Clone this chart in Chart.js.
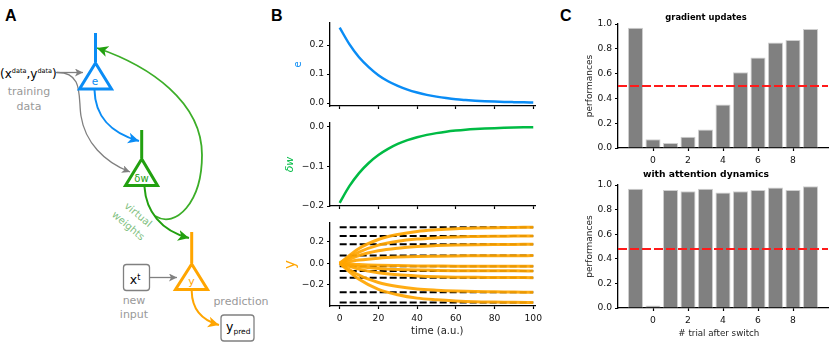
<!DOCTYPE html>
<html>
<head>
<meta charset="utf-8">
<script src="https://cdn.jsdelivr.net/npm/chart.js@4"></script>
<style>
  html, body { margin: 0; padding: 0; background: #fff; }
  #page { position: relative; width: 830px; height: 343px; overflow: hidden; font-family: "DejaVu Sans", sans-serif; }
  #page canvas { position: absolute; }
  #page svg { position: absolute; left: 0; top: 0; }
  .letter { font-family: "Liberation Sans", sans-serif; font-weight: bold; font-size: 16px; fill: #000; }
  .gray { fill: #999; font-size: 11px; }
</style>
</head>
<body>
<div id="page">
<svg width="830" height="343" viewBox="0 0 830 343">
  <defs>
    <marker id="headGray" markerUnits="userSpaceOnUse" markerWidth="9" markerHeight="9" refX="8" refY="4" orient="auto"><path d="M0 0 L8 4 L0 8 L2 4 Z" fill="#808080"/></marker>
    <marker id="headBlue" markerUnits="userSpaceOnUse" markerWidth="12" markerHeight="12" refX="11" refY="5.5" orient="auto"><path d="M0 0 L11 5.5 L0 11 L3 5.5 Z" fill="#0a8cf5"/></marker>
    <marker id="headGreen" markerUnits="userSpaceOnUse" markerWidth="12" markerHeight="12" refX="11" refY="5.5" orient="auto"><path d="M0 0 L11 5.5 L0 11 L3 5.5 Z" fill="#22a010"/></marker>
    <marker id="headOrange" markerUnits="userSpaceOnUse" markerWidth="12" markerHeight="12" refX="11" refY="5.5" orient="auto"><path d="M0 0 L11 5.5 L0 11 L3 5.5 Z" fill="#ffa500"/></marker>
  </defs>

  <text class="letter" x="5" y="21">A</text>
  <text class="letter" x="271" y="21">B</text>
  <text class="letter" x="560" y="21">C</text>

  <!-- arrows -->
  <path d="M56 72.5 L83 72.5" fill="none" stroke="#808080" stroke-width="1.3" marker-end="url(#headGray)"/>
  <path d="M57 72.5 C84 72 78 98 81 116 C85 142 104 162 130 172" fill="none" stroke="#808080" stroke-width="1.3" marker-end="url(#headGray)"/>
  <path d="M94.5 90 C95 115 110 133 139 141" fill="none" stroke="#0a8cf5" stroke-width="2" marker-end="url(#headBlue)"/>
  <path d="M155 216 C176 229 202 202 202 155 C202 102 150 66 97 48" fill="none" stroke="#3cae28" stroke-width="1.8" marker-end="url(#headGreen)"/>
  <path d="M144.5 187 C146 211 161 231 189 238" fill="none" stroke="#22a010" stroke-width="2" marker-end="url(#headGreen)"/>
  <path d="M150 277.5 L177 277.5" fill="none" stroke="#808080" stroke-width="1.3" marker-end="url(#headGray)"/>
  <path d="M191.7 291 C192 309 201 320 219 325" fill="none" stroke="#ffa500" stroke-width="2" marker-end="url(#headOrange)"/>

  <!-- neurons -->
  <path d="M95.5 33 L95.5 62" stroke="#0a8cf5" stroke-width="3" fill="none"/>
  <path d="M95.5 63 L79.5 89 L111.5 89 Z" stroke="#0a8cf5" stroke-width="3" fill="#fff"/>
  <text x="95" y="85" text-anchor="middle" font-size="10.5" fill="#0a8cf5">e</text>

  <path d="M141.7 130 L141.7 158" stroke="#22a010" stroke-width="3" fill="none"/>
  <path d="M141.7 159 L125.5 185.5 L157.5 185.5 Z" stroke="#22a010" stroke-width="3" fill="#fff"/>
  <text x="141.5" y="182" text-anchor="middle" font-size="10" fill="#22a010">δw</text>

  <path d="M191.7 232 L191.7 263" stroke="#ffa500" stroke-width="3" fill="none"/>
  <path d="M191.7 264 L175.5 289.5 L207.5 289.5 Z" stroke="#ffa500" stroke-width="3" fill="#fff"/>
  <text x="191.5" y="285" text-anchor="middle" font-size="11" fill="#ffa500">y</text>

  <!-- boxes -->
  <rect x="123.5" y="264.5" width="26" height="26" rx="3" fill="#fff" stroke="#808080" stroke-width="1.3"/>
  <text x="135" y="284" text-anchor="middle" font-size="12.5" fill="#000">x<tspan font-size="8" dy="-4">t</tspan></text>
  <rect x="221" y="315" width="33" height="26" rx="3" fill="#fff" stroke="#808080" stroke-width="1.3"/>
  <text x="226" y="331" font-size="12.5" fill="#000">y<tspan font-size="7.5" dy="3">pred</tspan></text>

  <!-- labels -->
  <text x="0" y="78" font-size="12" fill="#000">(x<tspan font-size="6.5" dy="-5">data</tspan><tspan dy="5">,y</tspan><tspan font-size="6.5" dy="-5">data</tspan><tspan dy="5">)</tspan></text>
  <text class="gray" x="29" y="95" text-anchor="middle">training</text>
  <text class="gray" x="29" y="110" text-anchor="middle">data</text>
  <text class="gray" x="134" y="304" text-anchor="middle">new</text>
  <text class="gray" x="134" y="318" text-anchor="middle">input</text>
  <text class="gray" x="241" y="305" text-anchor="middle">prediction</text>
  <text x="138" y="218" text-anchor="middle" font-size="10" fill="#7fbf7f" transform="rotate(40 138 215)">virtual</text>
  <text x="128" y="229" text-anchor="middle" font-size="10" fill="#7fbf7f" transform="rotate(40 128 226)">weights</text>
</svg>
</div>

<script>
const TICK_FONT = { family: "DejaVu Sans", size: 9.2 };

// panel B data
const timeFine = [0, 5, 10, 15, 20, 25, 30, 35, 40, 45, 50, 55, 60, 65, 70, 75, 80, 85, 90, 95, 100];
const errorValues = [0.26, 0.203, 0.158, 0.124, 0.096, 0.075, 0.059, 0.046, 0.036, 0.028, 0.022, 0.017, 0.013, 0.0103, 0.008, 0.0063, 0.0049, 0.0038, 0.003, 0.0023, 0.0018];
const deltaWValues = [-0.192, -0.15, -0.117, -0.0915, -0.0715, -0.056, -0.0435, -0.034, -0.0265, -0.0207, -0.0162, -0.0126, -0.0099, -0.0077, -0.006, -0.0047, -0.0037, -0.0029, -0.0022, -0.0017, -0.0013];

const timeCoarse = [0, 10, 20, 30, 40, 50, 60, 70, 80, 90, 100];
const targets = [0.338, 0.257, 0.178, 0.072, -0.028, -0.072, -0.135, -0.272, -0.369];
const outputA = [0, 0.139, 0.223, 0.27, 0.299, 0.314, 0.324, 0.33, 0.334, 0.336, 0.338];
const outputB = [0, 0.105, 0.17, 0.206, 0.227, 0.239, 0.247, 0.251, 0.254, 0.255, 0.257];
const outputC = [0, 0.073, 0.117, 0.142, 0.158, 0.166, 0.171, 0.174, 0.176, 0.177, 0.178];
const outputD = [0, 0.03, 0.048, 0.058, 0.064, 0.067, 0.069, 0.07, 0.071, 0.071, 0.072];
const outputE = [0, -0.011, -0.018, -0.022, -0.025, -0.026, -0.027, -0.027, -0.028, -0.028, -0.028];
const outputF = [0, -0.03, -0.048, -0.058, -0.064, -0.067, -0.069, -0.07, -0.071, -0.071, -0.072];
const outputG = [0, -0.055, -0.089, -0.108, -0.119, -0.126, -0.13, -0.132, -0.133, -0.134, -0.135];
const outputH = [0, -0.112, -0.18, -0.218, -0.241, -0.253, -0.261, -0.266, -0.268, -0.27, -0.272];
const outputI = [0, -0.151, -0.244, -0.295, -0.327, -0.343, -0.354, -0.361, -0.364, -0.366, -0.369];
const outputs = [outputA, outputB, outputC, outputD, outputE, outputF, outputG, outputH, outputI];

const timeTicks = [0, 20, 40, 60, 80, 100];
const errorTicks = [0, 0.1, 0.2];
const deltaWTicks = [0, -0.1, -0.2];
const outputTicks = [0.2, 0, -0.2];

// panel C data
const trials = [-1, 0, 1, 2, 3, 4, 5, 6, 7, 8, 9];
const perfGradient = [0.97, 0.07, 0.04, 0.09, 0.15, 0.35, 0.61, 0.73, 0.85, 0.87, 0.96];
const perfAttention = [0.97, 0.02, 0.96, 0.95, 0.97, 0.94, 0.95, 0.96, 0.98, 0.96, 0.99];
const chanceGradient = 0.5;
const chanceAttention = 0.48;
const trialTicks = [0, 2, 4, 6, 8];
const perfTicks = [0, 0.2, 0.4, 0.6, 0.8, 1];

const pairs = (xs, ys) => xs.map((x, i) => ({ x, y: ys[i] }));
const fmt = v => v.toFixed(1).replace("-", "\u2212");

// every panel gets its own canvas, sized so that the plot area lands on box
function panel(box, cfg) {
  const c = document.createElement("canvas");
  const padTop = cfg.padTop;
  const padRight = cfg.padRight;
  c.width = box.right - box.left + cfg.yWidth + padRight;
  c.height = box.bottom - box.top + padTop + cfg.xHeight;
  c.style.left = (box.left - cfg.yWidth) + "px";
  c.style.top = (box.top - padTop) + "px";
  document.getElementById("page").appendChild(c);

  return new Chart(c, {
    data: { datasets: cfg.datasets },
    options: {
      responsive: false,
      animation: false,
      layout: { padding: { top: cfg.title ? 0 : padTop, right: padRight, left: 0, bottom: 0 } },
      plugins: {
        legend: { display: false },
        tooltip: { enabled: false },
        title: cfg.title
          ? { display: true, text: cfg.title, color: "#000", font: { family: "DejaVu Sans", size: cfg.titleSize, weight: "bold", lineHeight: 1.2 }, padding: { top: padTop - cfg.titleSize * 1.2 - cfg.titleGap, bottom: cfg.titleGap } }
          : { display: false }
      },
      scales: {
        x: {
          type: "linear",
          offset: false,
          min: cfg.xMin,
          max: cfg.xMax,
          grid: { drawOnChartArea: false, tickLength: 3, tickWidth: 1.2, color: "#000", offset: false },
          border: { display: true, color: "#000", width: 1.3 },
          ticks: { display: cfg.xLabels, font: TICK_FONT, color: "#111", maxRotation: 0, autoSkip: false, padding: 4 },
          title: cfg.xTitle
            ? { display: true, text: cfg.xTitle, color: "#222", font: { family: "DejaVu Sans", size: cfg.xTitleSize, lineHeight: 1.2 }, padding: { top: 0, bottom: cfg.xTitlePad } }
            : { display: false },
          afterBuildTicks: s => { s.ticks = cfg.xTicks.map(value => ({ value })); },
          afterFit: s => { s.height = cfg.xHeight; s.paddingLeft = 0; s.paddingRight = 0; }
        },
        y: {
          type: "linear",
          min: cfg.yMin,
          max: cfg.yMax,
          grid: { drawOnChartArea: false, tickLength: 3, tickWidth: 1.2, color: "#000" },
          border: { display: true, color: "#000", width: 1.3 },
          ticks: { font: TICK_FONT, color: "#111", padding: 3, autoSkip: false, callback: fmt },
          title: {
            display: true,
            text: cfg.yTitle,
            color: cfg.yTitleColor,
            font: cfg.yTitleFont,
            padding: { top: 0, bottom: 0 }
          },
          afterBuildTicks: s => { s.ticks = cfg.yTicks.map(value => ({ value })); },
          afterFit: s => { s.width = cfg.yWidth; s.paddingTop = 0; s.paddingBottom = 0; }
        }
      }
    }
  });
}

function curve(xs, ys, color, width) {
  return {
    type: "line",
    data: pairs(xs, ys),
    borderColor: color,
    borderWidth: width,
    pointRadius: 0,
    cubicInterpolationMode: "monotone",
    clip: false
  };
}

const bCommon = {
  padTop: 6, padRight: 14, xMin: -5, xMax: 100.9, xTicks: timeTicks
};

panel({ left: 330, right: 535, top: 23, bottom: 106 }, {
  ...bCommon, xHeight: 6, xLabels: false,
  yWidth: 38, yMin: -0.0103, yMax: 0.2759, yTicks: errorTicks,
  yTitle: "e", yTitleColor: "#0a8cf5", yTitleFont: { family: "DejaVu Sans", size: 10, lineHeight: 1.2 },
  datasets: [curve(timeFine, errorValues, "#0a8cf5", 2.5)]
});

panel({ left: 330, right: 535, top: 123, bottom: 206 }, {
  ...bCommon, xHeight: 6, xLabels: false,
  yWidth: 46, yMin: -0.2, yMax: 0.0093, yTicks: deltaWTicks,
  yTitle: "\u03b4w", yTitleColor: "#00bb44", yTitleFont: { family: "DejaVu Sans", size: 11, style: "italic", lineHeight: 1.2 },
  datasets: [curve(timeFine, deltaWValues, "#00bb44", 2.5)]
});

// leading spaces nudge the centred axis title to the right, as in the picture
panel({ left: 330, right: 535, top: 223, bottom: 306 }, {
  ...bCommon, xHeight: 32, xLabels: true, xTitle: "   time (a.u.)", xTitleSize: 10, xTitlePad: 1,
  yWidth: 48, yMin: -0.401, yMax: 0.378, yTicks: outputTicks,
  yTitle: "y", yTitleColor: "#ffa500", yTitleFont: { family: "DejaVu Sans", size: 15, lineHeight: 1.2 },
  datasets: [
    ...outputs.map(o => curve(timeCoarse, o, "rgba(255,165,0,0.92)", 3)),
    ...targets.map(t => ({
      type: "line",
      data: [{ x: 0, y: t }, { x: 100, y: t }],
      borderColor: "#000",
      borderWidth: 2,
      borderDash: [7, 3],
      pointRadius: 0
    }))
  ]
});

function perfDatasets(values, chance) {
  return [
    {
      type: "line",
      order: 0,
      data: [{ x: -2, y: chance }, { x: 10, y: chance }],
      borderColor: "#ff1a1a",
      borderWidth: 2,
      borderDash: [9, 3],
      pointRadius: 0
    },
    {
      type: "bar",
      order: 1,
      data: pairs(trials, values),
      backgroundColor: "#808080",
      borderColor: "#cfcfcf",
      borderWidth: 1,
      categoryPercentage: 1,
      barPercentage: 0.86
    }
  ];
}

const cCommon = {
  padTop: 18, padRight: 2, yWidth: 34, xMin: -2, xMax: 10, xTicks: trialTicks,
  xLabels: true, yMin: 0, yMax: 1, yTicks: perfTicks,
  yTitle: "performances", yTitleColor: "#222", yTitleFont: { family: "DejaVu Sans", size: 9, lineHeight: 1.2 }
};

panel({ left: 618, right: 828, top: 24, bottom: 148 }, {
  ...cCommon, xHeight: 18, title: "gradient updates", titleSize: 8.4, titleGap: 1.3,
  datasets: perfDatasets(perfGradient, chanceGradient)
});

panel({ left: 618, right: 828, top: 185, bottom: 308 }, {
  ...cCommon, xHeight: 32, title: "with attention dynamics", titleSize: 9.2, titleGap: 4.6,
  xTitle: "# trial after switch   ", xTitleSize: 8.7, xTitlePad: 1,
  datasets: perfDatasets(perfAttention, chanceAttention)
});
</script>
</body>
</html>
